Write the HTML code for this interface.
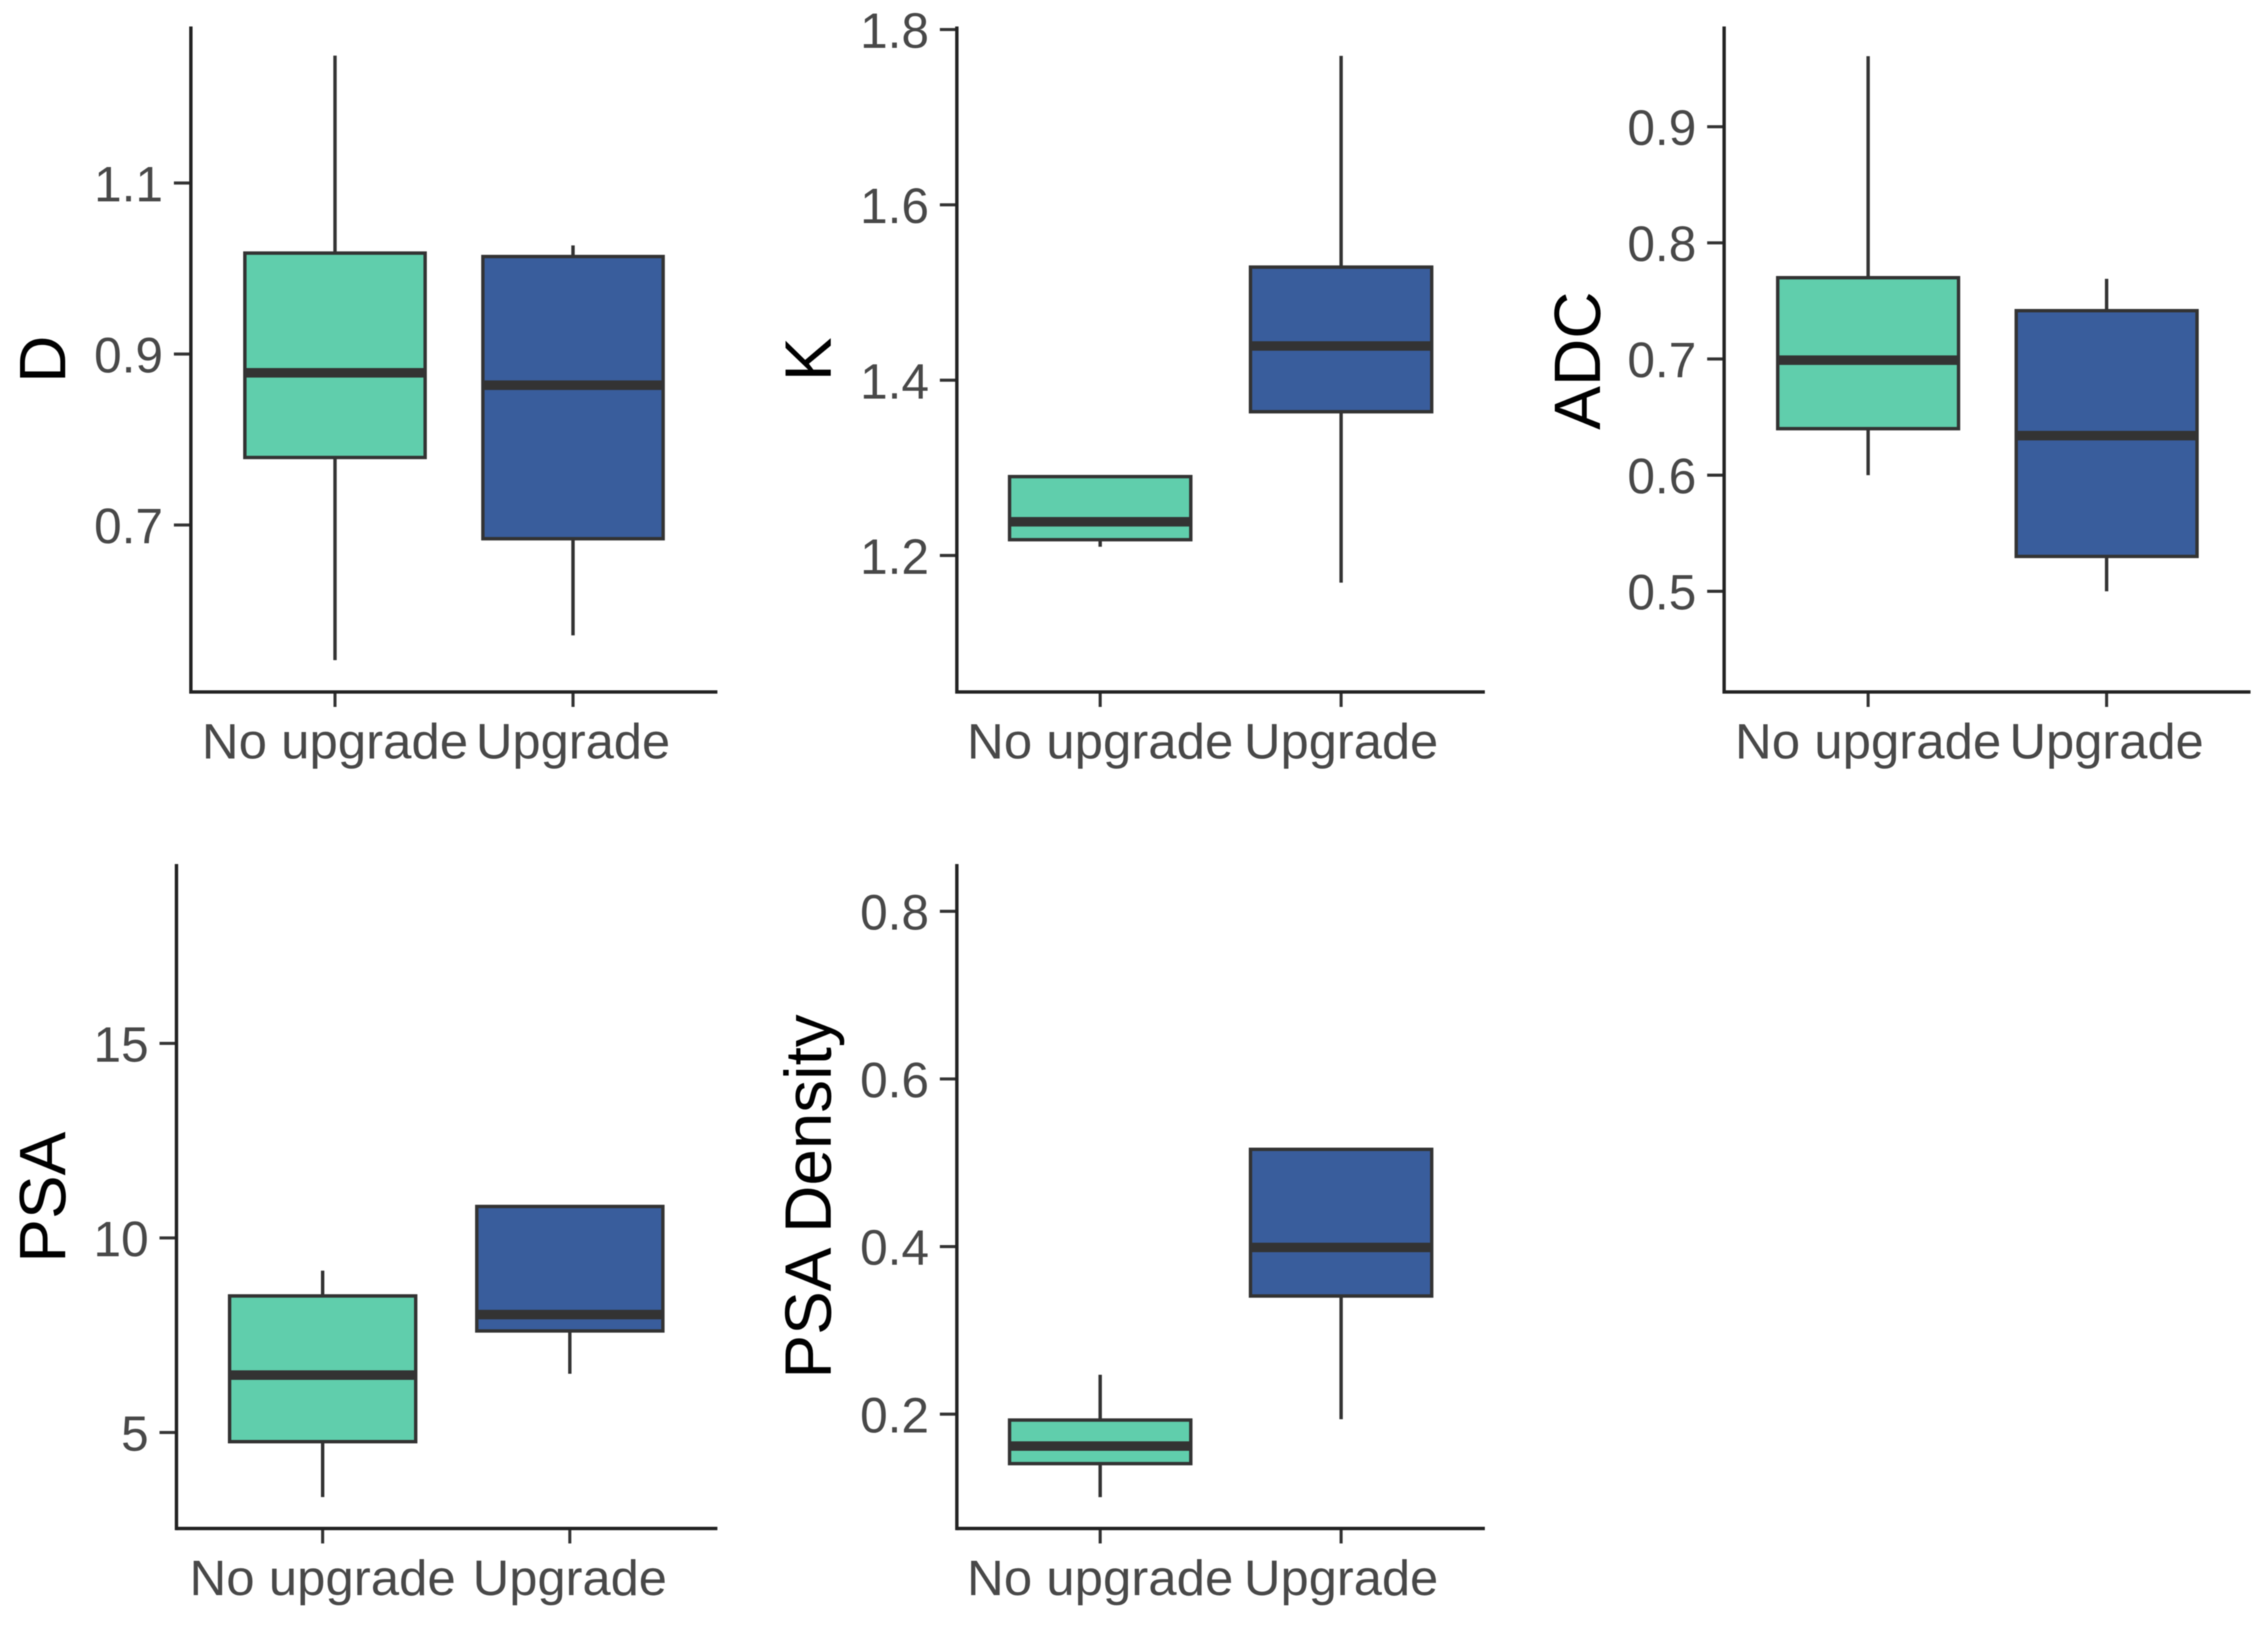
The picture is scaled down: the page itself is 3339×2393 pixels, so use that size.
<!DOCTYPE html>
<html lang="en">
<head>
<meta charset="utf-8">
<title>Boxplots of D, K, ADC, PSA and PSA Density by upgrade status</title>
<style>
  html, body { margin: 0; padding: 0; background: #ffffff; }
  #figure { display: block; width: 3339px; height: 2393px; filter: blur(0.7px); }
  text { font-family: "Liberation Sans", Arial, sans-serif; }
  .tick-label { font-size: 73px; fill: #484848; }
  .axis-title { font-size: 96.5px; fill: #000000; }
</style>
</head>
<body>
<svg id="figure" xmlns="http://www.w3.org/2000/svg" width="3339" height="2393" viewBox="0 0 3339 2393"></svg>
<script>
// Shared categories
const categories = ["No upgrade", "Upgrade"];

// Panel D
const dTicks = ["0.7", "0.9", "1.1"];
const dNoUpgrade = [0.542, 0.779, 0.878, 1.018, 1.249];
const dUpgrade = [0.571, 0.684, 0.8635, 1.014, 1.027];

// Panel K
const kTicks = ["1.2", "1.4", "1.6", "1.8"];
const kNoUpgrade = [1.21, 1.218, 1.2385, 1.29, 1.29];
const kUpgrade = [1.169, 1.364, 1.439, 1.529, 1.77];

// Panel ADC
const adcTicks = ["0.5", "0.6", "0.7", "0.8", "0.9"];
const adcNoUpgrade = [0.6, 0.64, 0.699, 0.77, 0.9607];
const adcUpgrade = [0.5, 0.53, 0.634, 0.7416, 0.769];

// Panel PSA
const psaTicks = ["5", "10", "15"];
const psaNoUpgrade = [3.34, 4.765, 6.475, 8.51, 9.16];
const psaUpgrade = [6.51, 7.61, 8.03, 10.81, 10.81];

// Panel PSA Density
const densityTicks = ["0.2", "0.4", "0.6", "0.8"];
const densityNoUpgrade = [0.101, 0.141, 0.162, 0.193, 0.247];
const densityUpgrade = [0.194, 0.341, 0.399, 0.516, 0.516];

// Frames and axis domains
const panels = [
  { key: "d", title: "D", ticks: dTicks, series: [dNoUpgrade, dUpgrade],
    left: 281, right: 1056.2, top: 39, bottom: 1019, first: 493.2, step: 350.4, half: 132.7,
    domain: [0.5048, 1.283], titleX: 96, titleY: 529 },
  { key: "k", title: "K", ticks: kTicks, series: [kNoUpgrade, kUpgrade],
    left: 1408.7, right: 2186, top: 39, bottom: 1019, first: 1619.7, step: 354.7, half: 133.4,
    domain: [1.0443, 1.8035], titleX: 1223, titleY: 529 },
  { key: "adc", title: "ADC", ticks: adcTicks, series: [adcNoUpgrade, adcUpgrade],
    left: 2538.3, right: 3313.3, top: 39, bottom: 1019, first: 2750.3, step: 351.1, half: 133.1,
    domain: [0.4133, 0.9863], titleX: 2355.6, titleY: 531 },
  { key: "psa", title: "PSA", ticks: psaTicks, series: [psaNoUpgrade, psaUpgrade],
    left: 259.8, right: 1056.2, top: 1272.4, bottom: 2250.9, first: 475, step: 363.9, half: 137,
    domain: [2.533, 19.61], titleX: 96, titleY: 1763 },
  { key: "psa-density", title: "PSA Density", ticks: densityTicks, series: [densityNoUpgrade, densityUpgrade],
    left: 1408.7, right: 2186, top: 1272.4, bottom: 2250.9, first: 1619.7, step: 354.7, half: 133.4,
    domain: [0.0636, 0.8564], titleX: 1223, titleY: 1762 }
];

const fills = ["#60CEAC", "#395D9C"];
const ink = "#333333";
const axisInk = "#222222";
const NS = "http://www.w3.org/2000/svg";
const svg = document.getElementById("figure");

function mk(tag, attrs, parent) {
  const node = document.createElementNS(NS, tag);
  for (const k in attrs) node.setAttribute(k, attrs[k]);
  parent.appendChild(node);
  return node;
}

function line(x1, y1, x2, y2, stroke, width, parent) {
  return mk("line", { x1: x1, y1: y1, x2: x2, y2: y2, stroke: stroke, "stroke-width": width }, parent);
}

function drawPanel(p) {
  const yOf = function (v) {
    return p.bottom - (v - p.domain[0]) / (p.domain[1] - p.domain[0]) * (p.bottom - p.top);
  };
  const xOf = function (i) { return p.first + i * p.step; };

  const g = mk("g", {}, svg);
  
  

  // Boxes
  categories.forEach(function (cat, i) {
    const vals = p.series[i];
    const cx = xOf(i);
    const slug = cat.toLowerCase().replace(/ /g, '-');

    const whiskerLow = line(cx, yOf(vals[0]), cx, yOf(vals[1]), ink, 5, g);
    
    

    const whiskerHigh = line(cx, yOf(vals[3]), cx, yOf(vals[4]), ink, 5, g);
    
    

    const box = mk("rect", {
      x: cx - p.half, y: yOf(vals[3]), width: p.half * 2, height: yOf(vals[1]) - yOf(vals[3]),
      fill: fills[i], stroke: ink, "stroke-width": 5
    }, g);
    
    

    const median = line(cx - p.half, yOf(vals[2]), cx + p.half, yOf(vals[2]), ink, 14, g);
    
    

    const xTick = line(cx, p.bottom, cx, p.bottom + 22, ink, 4.5, g);
    
    

    const xLabel = mk("text", {
      x: cx, y: p.bottom + 98, "text-anchor": "middle", "class": "tick-label",
      textLength: i === 0 ? 392 : 286, lengthAdjust: "spacingAndGlyphs"
    }, g);
    xLabel.textContent = cat;
    
    
  });

  // Y axis ticks and labels
  p.ticks.forEach(function (label) {
    const y = yOf(parseFloat(label));

    const yTick = line(p.left - 25, y, p.left, y, ink, 4.5, g);
    
    

    const yLabel = mk("text", {
      x: p.left - 41, y: y + 27, "text-anchor": "end", "class": "tick-label"
    }, g);
    yLabel.textContent = label;
    
    
  });

  // Axis lines
  const yAxis = line(p.left, p.top, p.left, p.bottom + 2.5, axisInk, 5, g);
  
  

  const xAxis = line(p.left, p.bottom, p.right, p.bottom, axisInk, 5, g);
  
  

  // Y axis title
  const title = mk("text", {
    x: 0, y: 0, "text-anchor": "middle", "class": "axis-title",
    transform: "translate(" + p.titleX + "," + p.titleY + ") rotate(-90)"
  }, g);
  title.textContent = p.title;
  
  
}

panels.forEach(drawPanel);
</script>
</body>
</html>
